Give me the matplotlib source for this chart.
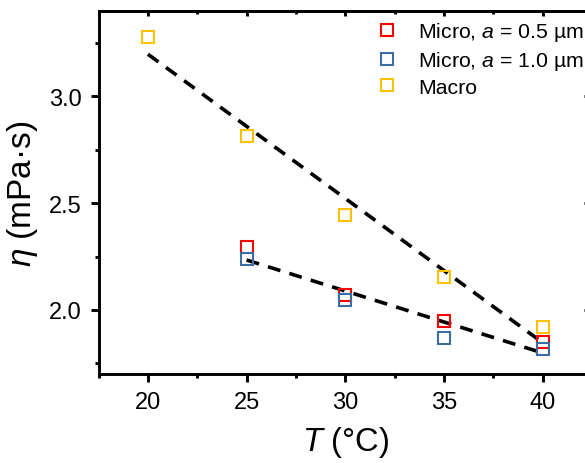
import numpy as np
import matplotlib
matplotlib.use("Agg")
import matplotlib.pyplot as plt
from matplotlib.ticker import MultipleLocator

plt.rcParams['font.family'] = ['Liberation Sans', 'DejaVu Sans']
plt.rcParams['mathtext.fontset'] = 'custom'
plt.rcParams['mathtext.rm'] = 'Liberation Sans'
plt.rcParams['mathtext.it'] = 'Liberation Sans:italic'

# Data
T_micro = [25, 30, 35, 40]
eta_micro_05 = [2.295, 2.068, 1.948, 1.848]
eta_micro_10 = [2.240, 2.045, 1.867, 1.819]
T_macro = [20, 25, 30, 35, 40]
eta_macro = [3.277, 2.815, 2.445, 2.156, 1.918]

labels = [r"Micro, $a$ = 0.5 µm", r"Micro, $a$ = 1.0 µm", "Macro"]
colors = ["#ff0000", "#3a6ea5", "#ffc000"]

fig = plt.figure(figsize=(5.85, 4.64), dpi=100)
ax = fig.add_axes([0.1685, 0.1918, 1.0120 - 0.1685, 0.9741 - 0.1918])

# Linear fits
p_macro = np.polyfit(T_macro, eta_macro, 1)
Tm_all = np.array(T_micro + T_micro)
em_all = np.array(eta_micro_05 + eta_micro_10)
p_micro = np.polyfit(Tm_all, em_all, 1)
xf1 = np.array([min(T_macro), max(T_macro)])
xf2 = np.array([min(T_micro), max(T_micro)])
ax.plot(xf1, np.polyval(p_macro, xf1), color='black', lw=2.6, dashes=(3.6, 2.6), zorder=1)
ax.plot(xf2, np.polyval(p_micro, xf2), color='black', lw=2.6, dashes=(3.6, 2.6), zorder=1)

ms = 8.5
mew = 1.5
ax.plot(T_micro, eta_micro_05, 's', mfc='none', mec=colors[0], ms=ms, mew=mew, label=labels[0], zorder=3)
ax.plot(T_micro, eta_micro_10, 's', mfc='none', mec=colors[1], ms=ms, mew=mew, label=labels[1], zorder=3)
ax.plot(T_macro, eta_macro, 's', mfc='none', mec=colors[2], ms=ms, mew=mew, label=labels[2], zorder=3)

ax.set_xlim(17.5, 42.5)
ax.set_ylim(1.70, 3.40)
ax.xaxis.set_major_locator(MultipleLocator(5))
ax.xaxis.set_minor_locator(MultipleLocator(2.5))
ax.yaxis.set_major_locator(MultipleLocator(0.5))
ax.yaxis.set_minor_locator(MultipleLocator(0.25))
ax.yaxis.set_major_formatter(matplotlib.ticker.FormatStrFormatter('%.1f'))

lw = 2.1
for s in ax.spines.values():
    s.set_linewidth(lw)
ax.tick_params(which='both', width=lw, labelsize=17)
ax.tick_params(which='major', length=5.8, direction='out', pad=6.5)
ax.tick_params(which='minor', length=3, direction='out')
ax.tick_params(which='both', top=False, right=False)
axt = ax.secondary_xaxis('top')
axt.xaxis.set_major_locator(MultipleLocator(5))
axt.xaxis.set_minor_locator(MultipleLocator(2.5))
axt.tick_params(which='major', direction='in', length=3.5, width=lw, labeltop=False)
axt.tick_params(which='minor', direction='in', length=2.5, width=lw)
axt.spines['top'].set_linewidth(lw)
axr = ax.secondary_yaxis('right')
axr.yaxis.set_major_locator(MultipleLocator(0.5))
axr.yaxis.set_minor_locator(MultipleLocator(0.25))
axr.tick_params(which='major', direction='in', length=5.8, width=lw, labelright=False)
axr.tick_params(which='minor', direction='in', length=3, width=lw)

ax.set_xlabel(r"$T$ (°C)", fontsize=23.5, labelpad=8)
ax.set_ylabel(r"$\eta$ (mPa·s)", fontsize=24, labelpad=6)

leg = ax.legend(loc='upper left', bbox_to_anchor=(376 / 585, 1 - 21 / 464),
                bbox_transform=fig.transFigure, frameon=False, fontsize=15.3,
                handlelength=1.0, handletextpad=1.0, labelspacing=0.28,
                borderaxespad=0, borderpad=0)

fig.savefig("out.png", dpi=100)
